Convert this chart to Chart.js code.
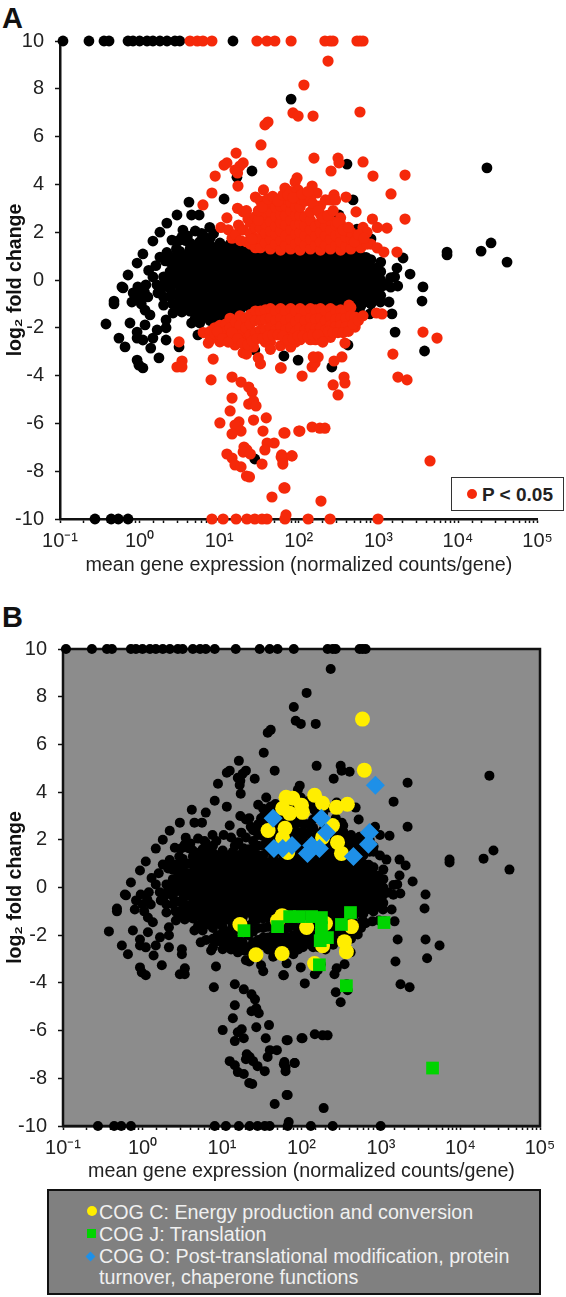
<!DOCTYPE html>
<html>
<head>
<meta charset="utf-8">
<script src="https://cdn.jsdelivr.net/npm/chart.js@4"></script>
<style>
  html, body { margin: 0; padding: 0; background: #fff; }
  body { width: 566px; height: 1297px; position: relative; overflow: hidden; font-family: "Liberation Sans", Arial, sans-serif; color: #222; filter: blur(0.4px); }
  canvas { position: absolute; left: 0; }
  .panel { position: absolute; left: 2px; font-size: 29px; font-weight: bold; line-height: 30px; color: #111; }
  #pBox { position: absolute; left: 451px; top: 477px; width: 111px; height: 32px; border: 1.5px solid #333; background: #fff; font-weight: bold; font-size: 19px; line-height: 33px; white-space: nowrap; }
  #pBox i { position: absolute; left: 15px; top: 11px; width: 10px; height: 10px; border-radius: 50%; background: #f5290a; }
  #pBox span { position: absolute; left: 30px; }
  #cogBox { position: absolute; left: 47px; top: 1189px; width: 490px; height: 102px; border: 2px solid #111; background: #808080; color: #f0f0f0; font-size: 19.7px; }
  #cogBox div { position: absolute; left: 50px; white-space: nowrap; line-height: 21px; }
  #cogBox i { position: absolute; left: 38px; }
</style>
</head>
<body>
<div class="panel" style="top:3px">A</div>
<div class="panel" style="top:602px">B</div>
<canvas id="chartA" width="566" height="577" style="top:0"></canvas>
<canvas id="chartB" width="566" height="593" style="top:590px"></canvas>
<div id="pBox"><i></i><span>P &lt; 0.05</span></div>
<div id="cogBox">
  <i style="top:15px;width:10px;height:10px;border-radius:50%;background:#ffee00"></i>
  <div style="top:11px">COG C: Energy production and conversion</div>
  <i style="top:38px;width:9px;height:9px;background:#00d400"></i>
  <div style="top:33px">COG J: Translation</div>
  <i style="top:62px;width:7px;height:7px;background:#1e90e8;transform:rotate(45deg)"></i>
  <div style="top:55px">COG O: Post-translational modification, protein</div>
  <div style="top:76px">turnover, chaperone functions</div>
</div>
<script>
// tick labels
const xTickLabels = { 0.1: "10⁻¹", 1: "10⁰", 10: "10¹", 100: "10²", 1000: "10³", 10000: "10⁴", 100000: "10⁵" };

// not significant genes [mean expression, log2 fold change]
const blackEdge = [
  [0.109,10],[0.231,10],[0.357,10],[0.413,10],[0.715,10],[0.826,10],[1,10],[1.24,10],[1.47,10],[1.8,10],[2.21,10],[2.78,10],[3.2,10],[14.9,10],
  [0.275,-10],[0.44,-10],[0.54,-10],[0.715,-10]
];
const blackScatter = [
  [80,7.57],[25.8,4.56],[11.5,3.39],[4.17,3.26],[16.7,4.3],[403,4.85],[480,3.35],[320,2.72],[538,2.13],[807,1.72],[2040,0.92],[1710,0.5],[1600,0.13],[2500,0.25],[1230,-0.21],[1750,-0.25],[3630,-0.29],
  [7280,1.17],[7280,1.05],[19500,1.21],[26000,1.55],[23100,4.69],[41300,0.75],[3530,-0.88],[587,-1.38],[780,-1.42],[1480,-1.42],[1060,-0.92],[1360,-0.92],[1620,-2.18],[3800,-2.97],[260,-3.64],[98,-3.35],[65,-3.18],[415,-2.72],[28,-7.49],[28,-2.93],[3.13,-2.8],
  [0.378,-1.84],[0.55,-2.43],[0.656,-2.8],[0.757,-1.8],[0.477,-0.88],[0.477,-1],[0.62,-0.33],[0.8,-0.92],[0.83,-0.54],[0.95,-0.29],[1.27,-0.71],[1.17,-1.26],[1.35,-1.46],[0.93,-2.18],[1.17,-1.88],[0.93,-2.43],[1.1,-2.51],[1.47,-2.43],[1.38,-2.85],[0.93,-3.35],[0.98,-3.56],[1.1,-3.68],[1.75,-3.26],[2.15,-2.51],[1.66,-2.09],[2.15,-1.67],[2.15,-2],[2,-1.05],[2,-0.71],[1.7,-0.54],[2.63,-1.38],[3.4,-1.34],[4.5,-1.8],[5.4,-2.3],
  [0.6,-0.29],[0.715,0.21],[0.93,0.71],[1.1,1.09],[1.47,1.63],[1.8,2],[2.2,2.38],[2.95,2.72],[1.47,0.13],[1.8,0.96],[2.55,1.67],[3.5,2.09],[4.5,2.72],[5.6,2.72],[2,0.13],[3.4,1.8],[6.25,1.88],[7.6,2.2],[4.6,1.38],
  [1.3,0.4],[1.6,0.6],[2.1,0.8],[2.2,1.15],[2.6,0.95],[2.9,1.3],[3.1,1.65],[1.65,-0.2],[1.9,-0.35],[2.1,-0.1],[2.4,-0.7],[2.6,-1],[3,-1.1],[1,-0.7],[1.15,-0.5],[1.2,-0.2],[1.05,-1],
  [6,1.95],[8.5,1.95],[4,1.85],[5,2.05],[3.8,1.65],[2.9,1]
];
const blackCore = [
  [2.41,-0.35],[2.41,0],[2.41,0.35],[2.41,0.75],
  [3.2,-0.9],[3.2,-0.5],[3.2,-0.2],[3.2,0.1],[3.2,0.4],[3.2,0.8],[3.2,1.2],
  [4.3,-1.3],[4.3,-1],[4.3,-0.65],[4.3,-0.35],[4.3,-0.05],[4.3,0.3],[4.3,0.6],[4.3,0.95],[4.3,1.3],[4.3,1.55],
  [5.7,-1.8],[5.7,-1.45],[5.7,-1.15],[5.7,-0.8],[5.7,-0.5],[5.7,-0.2],[5.7,0.1],[5.7,0.4],[5.7,0.75],[5.7,1.05],[5.7,1.35],[5.7,1.6],
  [7.7,-1.7],[7.7,-1.35],[7.7,-1.05],[7.7,-0.7],[7.7,-0.4],[7.7,-0.1],[7.7,0.2],[7.7,0.5],[7.7,0.85],[7.7,1.15],[7.7,1.45],[7.7,1.75],
  [10.2,-1.65],[10.2,-1.3],[10.2,-1],[10.2,-0.65],[10.2,-0.35],[10.2,-0.05],[10.2,0.25],[10.2,0.55],[10.2,0.9],[10.2,1.2],[10.2,1.55],
  [13.7,-1.5],[13.7,-1.2],[13.7,-0.9],[13.7,-0.6],[13.7,-0.3],[13.7,0],[13.7,0.3],[13.7,0.6],[13.7,0.9],[13.7,1.2],[13.7,1.5],
  [18.2,-1.25],[18.2,-0.95],[18.2,-0.65],[18.2,-0.35],[18.2,-0.05],[18.2,0.25],[18.2,0.55],[18.2,0.85],[18.2,1.15],[18.2,1.45],
  [24.6,-1.2],[24.6,-0.9],[24.6,-0.6],[24.6,-0.3],[24.6,0],[24.6,0.3],[24.6,0.6],[24.6,0.9],[24.6,1.2],
  [33,-1.25],[33,-0.95],[33,-0.65],[33,-0.35],[33,-0.05],[33,0.25],[33,0.55],[33,0.85],[33,1.15],
  [44,-1.2],[44,-0.9],[44,-0.6],[44,-0.3],[44,0],[44,0.3],[44,0.6],[44,0.9],[44,1.2],
  [59,-1.25],[59,-0.95],[59,-0.65],[59,-0.35],[59,-0.05],[59,0.25],[59,0.55],[59,0.85],[59,1.15],
  [79,-1.2],[79,-0.9],[79,-0.6],[79,-0.3],[79,0],[79,0.3],[79,0.6],[79,0.9],[79,1.2],
  [104,-1.25],[104,-0.95],[104,-0.65],[104,-0.35],[104,-0.05],[104,0.25],[104,0.55],[104,0.85],[104,1.15],
  [140,-1.2],[140,-0.9],[140,-0.6],[140,-0.3],[140,0],[140,0.3],[140,0.6],[140,0.9],[140,1.2],
  [187,-1.25],[187,-0.95],[187,-0.65],[187,-0.35],[187,-0.05],[187,0.25],[187,0.55],[187,0.85],[187,1.15],
  [250,-1.2],[250,-0.9],[250,-0.6],[250,-0.3],[250,0],[250,0.3],[250,0.6],[250,0.9],[250,1.2],
  [335,-1.25],[335,-0.95],[335,-0.65],[335,-0.35],[335,-0.05],[335,0.25],[335,0.55],[335,0.85],[335,1.15],
  [450,-1.2],[450,-0.9],[450,-0.6],[450,-0.3],[450,0],[450,0.3],[450,0.6],[450,0.9],[450,1.2],
  [600,-1.1],[600,-0.8],[600,-0.5],[600,-0.2],[600,0.1],[600,0.4],[600,0.7],[600,1],
  [805,-1],[805,-0.7],[805,-0.4],[805,-0.1],[805,0.2],[805,0.5],[805,0.85],
  [1070,-0.65],[1070,-0.3],[1070,0],[1070,0.35],[1070,0.75],
  [1430,-0.3],[1430,0.1]
];
const blackCoreMid = [
  [2.8,-0.6],[2.8,-0.15],[2.8,0.2],[2.8,0.6],
  [3.7,-1.05],[3.7,-0.75],[3.7,-0.35],[3.7,0],[3.7,0.25],[3.7,0.6],[3.7,1],
  [5,-1.6],[5,-1.2],[5,-0.85],[5,-0.5],[5,-0.2],[5,0.15],[5,0.45],[5,0.8],[5,1.15],[5,1.45],
  [6.6,-1.55],[6.6,-1.2],[6.6,-0.9],[6.6,-0.55],[6.6,-0.25],[6.6,0.05],[6.6,0.35],[6.6,0.65],[6.6,1],[6.6,1.3],[6.6,1.6],
  [8.9,-1.5],[8.9,-1.15],[8.9,-0.85],[8.9,-0.5],[8.9,-0.2],[8.9,0.1],[8.9,0.4],[8.9,0.7],[8.9,1.05],[8.9,1.35],
  [12,-1.35],[12,-1.05],[12,-0.75],[12,-0.45],[12,-0.15],[12,0.15],[12,0.45],[12,0.75],[12,1.05],[12,1.35],
  [15.8,-1.35],[15.8,-1.05],[15.8,-0.75],[15.8,-0.45],[15.8,-0.15],[15.8,0.15],[15.8,0.45],[15.8,0.75],[15.8,1.05],[15.8,1.35],
  [21,-1.05],[21,-0.75],[21,-0.45],[21,-0.15],[21,0.15],[21,0.45],[21,0.75],[21,1.05],[21,1.3],
  [28.5,-1.05],[28.5,-0.75],[28.5,-0.45],[28.5,-0.15],[28.5,0.15],[28.5,0.45],[28.5,0.75],[28.5,1.05],
  [38,-1.05],[38,-0.75],[38,-0.45],[38,-0.15],[38,0.15],[38,0.45],[38,0.75],[38,1.05],
  [51,-1.05],[51,-0.75],[51,-0.45],[51,-0.15],[51,0.15],[51,0.45],[51,0.75],[51,1.05],
  [68,-1.05],[68,-0.75],[68,-0.45],[68,-0.15],[68,0.15],[68,0.45],[68,0.75],[68,1.05],
  [91,-1.05],[91,-0.75],[91,-0.45],[91,-0.15],[91,0.15],[91,0.45],[91,0.75],[91,1.05],
  [120,-1.05],[120,-0.75],[120,-0.45],[120,-0.15],[120,0.15],[120,0.45],[120,0.75],[120,1.05],
  [162,-1.05],[162,-0.75],[162,-0.45],[162,-0.15],[162,0.15],[162,0.45],[162,0.75],[162,1.05],
  [216,-1.05],[216,-0.75],[216,-0.45],[216,-0.15],[216,0.15],[216,0.45],[216,0.75],[216,1.05],
  [290,-1.05],[290,-0.75],[290,-0.45],[290,-0.15],[290,0.15],[290,0.45],[290,0.75],[290,1.05],
  [390,-1.05],[390,-0.75],[390,-0.45],[390,-0.15],[390,0.15],[390,0.45],[390,0.75],[390,1.05],
  [520,-1.05],[520,-0.7],[520,-0.35],[520,-0.05],[520,0.25],[520,0.55],[520,0.85],[520,1.1],
  [700,-0.9],[700,-0.55],[700,-0.25],[700,0.05],[700,0.35],[700,0.65],[700,0.95],
  [930,-0.8],[930,-0.45],[930,-0.15],[930,0.15],[930,0.5]
];

// significant genes, the red ones in panel A
const redEdge = [
  [4.3,10],[5.3,10],[6.25,10],[8.1,10],[29.8,10],[39.8,10],[50,10],[80,10],[213,10],[247,10],[269,10],[538,10],[587,10],[641,10],
  [8.1,-10],[11.2,-10],[16.3,-10],[22.3,-10],[28,-10],[34.5,-10],[39.8,-10],[67,-10],[69,-9.83],[131,-10],[247,-10],[990,-10]
];
const redScatter = [
  [6.25,3.14],[8.1,3.64],[8.9,4.35],[11.5,4.81],[12.5,4.9],[16.3,5.31],[20,4.9],[18.2,4.77],[15.8,4.6],[17,4.48],[17.2,3.93],[33.5,5.65],[46,4.9],[37.6,6.49],[41,6.61],[84.5,6.99],[98,6.86],[151,6.86],[587,7.03],[116,8.16],[233,9.16],
  [155,5.1],[311,5.1],[320,4.9],[641,4.94],[254,4.56],[855,4.35],[2160,4.39],[1440,3.6],[2160,2.55],[524,2.85],[95,4.27],[90,4.1],[67,3.85],[98,3.77],[147,3.93],[169,3.64],[277,3.56],[392,3.47],[1280,2.17],[970,2.2],[841,2.55],[641,2.2],[427,1.92],[807,1.5],[970,1.34],[1170,1.17],[1710,1.17],
  [944,-1.38],[1110,-1.42],[3630,-2.18],[5450,-2.43],[1520,-3.1],[1760,-4.06],[2290,-4.18],[370,-4.06],[380,-4.31],[270,-4.39],[311,-4.81],[348,-3.22],[277,-3.39],[147,-3.64],[160,-3.47],[175,-3.22],[152,-3.22],[110,-4.02],[60,-3.68],[380,-2.64],[510,-1.97],[427,-1.05],[4450,-7.57],
  [67,-6.4],[103,-6.32],[147,-6.15],[184,-6.2],[213,-6.2],[82,-7.36],[63,-7.53],[61,-7.32],[67,-8.7],[190,-9.25],
  [3.13,-2.59],[3.41,-3.39],[2.95,-3.64],[3.4,-3.64],
  [7.9,-4.18],[8.4,-3.31],[7.3,-2.64],[14.5,-4.06],[18.8,-4.27],[23.5,-4.48],[26,-4.69],[14.5,-4.94],[13.7,-5.48],[23.5,-5.19],[27,-5.06],[29,-5.27],[39,-5.77],[27,-5.86],[10.2,-5.98],[17.7,-5.94],[15.8,-6.07],[18.8,-6.32],[14.5,-6.44],[35.5,-6.32],[65,-6.4],[100,-6.32],[49,-6.82],[40,-6.82],[37.5,-7.11],[20.5,-6.99],[22.3,-7.11],[20,-7.2],[24.6,-7.28],[12.5,-7.28],[14.5,-7.45],[15.8,-7.74],[18.8,-7.82],[22,-8.2],[24,-8.24],[34.5,-7.7],[60,-7.41],[63,-7.7],[82,-7.36],[65,-8.7],[46,-9.08],
  [59,-3.68],[33,-3.51],[31,-3.26],[27,-2.8],[20,-3.05],[22,-3.1],[15.8,-2.72],[10.2,-2.59]
];
const redUpper = [
  [10.5,2.2],[13,2.1],[12.5,2.6],[14.5,1.75],[16,1.9],[17.5,2.3],[17,3],[18.5,1.65],[20,2.1],[20,2.85],[22,2.9],[23,2.55],[22,1.6],
  [24.6,1.5],[24.6,1.95],[24.6,2.4],[28.5,1.35],[28.5,1.75],[28.5,2.2],[28.5,2.65],[28.5,3.47],
  [33,1.35],[33,1.75],[33,2.15],[33,2.55],[33,2.95],[33,3.3],[36,3.77],[38,1.55],[38,1.95],[38,2.35],[38,2.75],[38,3.15],
  [44,1.3],[44,1.7],[44,2.05],[44,2.45],[44,2.85],[44,3.2],[51,1.5],[51,1.9],[51,2.25],[51,2.65],[51,3.05],[51,3.4],
  [59,1.25],[59,1.65],[59,2.05],[59,2.4],[59,2.75],[59,3.1],[68,1.45],[68,1.85],[68,2.3],[68,2.7],[68,3.1],[68,3.4],
  [79,1.3],[79,1.7],[79,2.1],[79,2.5],[79,2.9],[79,3.25],[79,3.7],[91,1.5],[91,1.9],[91,2.3],[91,2.7],[91,3.05],
  [104,1.25],[104,1.65],[104,2],[104,2.35],[104,2.7],[104,3.05],[104,3.4],[120,1.45],[120,1.85],[120,2.25],[120,2.65],[120,3.3],
  [140,1.3],[140,1.7],[140,2.1],[140,2.5],[140,2.85],[140,3.4],[162,1.45],[162,1.85],[162,2.25],[162,3.05],
  [187,1.25],[187,1.6],[187,2],[187,2.4],[187,2.75],[187,3.1],[216,1.45],[216,1.85],[216,2.25],[216,3.35],
  [250,1.3],[250,1.7],[250,2.1],[250,2.5],[250,3.35],[290,1.45],[290,1.85],[290,2.3],[290,3.35],
  [335,1.25],[335,1.6],[335,2],[335,2.35],[335,2.6],[390,1.4],[390,1.8],[450,1.3],[450,1.7],[450,2],[600,1.35],[600,1.7],[720,1.5],[720,2],
  [26,1.7],[31,2.5],[31,2.9],[35,3.05],[41,3.4],[47,3.5],[55,3.3],[63,3.55],[73,3.55],[85,3.45],[110,3.6],[130,3.7],[150,3.2],[175,2.9],[200,2.6],[230,2.7],[270,2.9],[310,2.4],[360,2.1],[420,2.2],[500,1.6],[560,1.9],[660,1.75]
];
const redLower = [
  [6.3,-2.2],[7.7,-2.15],[7.7,-2.5],[8.8,-2],[8.8,-2.25],[10.2,-1.9],[10.2,-2.3],[12,-1.85],[12,-2.15],[13.7,-1.6],[13.7,-2],[13.7,-2.4],[16,-1.75],[16,-2.2],[16,-2.65],[18.2,-1.5],[18.2,-1.9],[18.2,-2.3],
  [21.5,-1.6],[21.5,-2],[21.5,-2.5],[24.6,-1.45],[24.6,-1.85],[24.6,-2.3],[28.5,-1.3],[28.5,-1.7],[28.5,-2.2],[33,-1.3],[33,-1.7],[33,-2.1],[38,-1.25],[38,-1.65],[38,-2.1],[38,-2.6],
  [44,-1.2],[44,-1.6],[44,-2],[44,-2.6],[44,-2.9],[51,-1.3],[51,-1.7],[51,-2.1],[59,-1.2],[59,-1.6],[59,-1.95],[59,-2.75],[68,-1.3],[68,-1.7],[68,-2.1],[68,-2.5],
  [79,-1.2],[79,-1.6],[79,-2],[79,-2.4],[79,-2.8],[91,-1.3],[91,-1.75],[91,-2.15],[91,-2.6],[104,-1.2],[104,-1.6],[104,-2],[104,-2.5],[120,-1.3],[120,-1.7],[120,-2.1],
  [140,-1.2],[140,-1.6],[140,-2],[140,-2.5],[162,-1.25],[162,-1.65],[162,-2.05],[162,-2.5],[187,-1.2],[187,-1.6],[187,-2],[187,-2.45],[216,-1.3],[216,-1.7],[216,-2.1],[216,-2.4],
  [250,-1.2],[250,-1.55],[250,-1.9],[250,-2.4],[290,-1.3],[290,-1.65],[290,-1.95],[335,-1.25],[335,-1.6],[335,-1.9],[390,-1.3],[390,-1.6],[390,-1.95],[450,-1.15],[450,-1.5],[510,-1.55],
  [9.5,-2.15],[11,-2.45],[13,-2.6],[14.5,-2.2],[17,-2.45],[19.5,-2.65],[23,-2.7],[26,-2.55],[30,-2.45],[35,-2.45],[41,-2.35],[47,-2.3],[55,-2.3],[63,-2.35],[73,-2.5],[85,-2.45],[98,-2.35],[112,-2.35],[130,-2.4],[150,-2.3],[175,-2.3],[200,-2.6],[235,-2.15],[270,-2.2],[310,-2.2],[360,-2.2],[420,-2.15],[480,-1.85],[560,-1.7],[640,-1.5]
];

// highlighted COG groups in panel B
const cogC = [
  [585,7.06],[617,4.92],[64,3.78],[78,3.74],[146,3.87],[184,3.53],[58,3.32],[71,3.11],[100,3.45],[103,3.15],[275,3.36],[378,3.49],[38,2.39],[62,2.48],[58,2.06],[245,2.6],[184,2.1],[284,1.89],[318,1.43],[67,1.47],
  [16.8,-1.55],[57,-1.18],[50,-1.39],[116,-1.68],[200,-1.51],[425,-1.64],[26.7,-2.82],[57,-2.77],[184,-2.44],[347,-2.27],[367,-2.69],[146,-3.19]
];
const cogJ = [
  [18.9,-1.81],[50,-1.64],[71,-1.22],[94,-1.22],[134,-1.22],[178,-1.26],[178,-1.68],[178,-2.1],[212,-2.1],[172,-2.23],[318,-1.55],[413,-1.05],[1090,-1.47],[168,-3.24],[367,-4.12],[4450,-7.57]
];
const cogO = [
  [850,4.29],[44,2.9],[178,2.9],[206,2.31],[715,2.31],[695,1.81],[450,1.3],[45,1.64],[58,1.64],[76,1.76],[134,1.76],[168,1.64],[119,1.43]
];

const blackPoints = blackEdge.concat(blackScatter, blackCore, blackCoreMid);
const redPoints = redEdge.concat(redScatter, redUpper, redLower);

function toXY(list) {
  return list.map((p) => ({ x: p[0], y: p[1] }));
}

function dots(list, color, radius, style) {
  return {
    data: toXY(list),
    backgroundColor: color,
    borderWidth: 0,
    pointRadius: radius,
    pointStyle: style || "circle",
    clip: false,
  };
}

// Gray plot background and black frame of panel B
const framePlugin = {
  id: "frame",
  beforeDatasetsDraw(chart, args, opts) {
    if (!opts.fill) return;
    const a = chart.chartArea;
    const c = chart.ctx;
    c.save();
    c.fillStyle = opts.fill;
    c.fillRect(a.left, a.top, a.width, a.height);
    c.strokeStyle = "#111";
    c.lineWidth = 2.5;
    c.strokeRect(a.left, a.top, a.width, a.height);
    c.restore();
  },
};

function makeChart(id, datasets, box, fill) {
  const font = "'Liberation Sans', Arial, sans-serif";
  return new Chart(document.getElementById(id), {
    type: "scatter",
    data: { datasets },
    plugins: [framePlugin],
    options: {
      responsive: false,
      animation: false,
      layout: {
        autoPadding: false,
        padding: { left: 0, right: box.right, top: box.top, bottom: 0 },
      },
      plugins: {
        legend: { display: false },
        tooltip: { enabled: false },
        frame: { fill },
      },
      scales: {
        x: {
          type: "logarithmic",
          min: 0.1,
          max: 100000,
          afterFit(scale) { scale.height = box.xHeight; },
          border: { color: "#111", width: 2.5 },
          grid: { drawOnChartArea: false, drawTicks: true, tickLength: 4, tickColor: "#111", tickWidth: 1.5 },
          ticks: {
            autoSkip: false,
            maxRotation: 0,
            padding: 6,
            color: "#222",
            font: { family: font, size: 20 },
            callback: (v) => xTickLabels[v] || "",
          },
          title: {
            display: true,
            text: "mean gene expression (normalized counts/gene)",
            color: "#222",
            font: { family: font, size: 19.7 },
            padding: { top: 3, bottom: 0 },
          },
        },
        y: {
          min: -10,
          max: 10,
          afterFit(scale) { scale.width = box.left; },
          border: { color: "#111", width: 2.5 },
          grid: { drawOnChartArea: false, drawTicks: true, tickLength: 5, tickColor: "#111", tickWidth: 1.5 },
          ticks: {
            stepSize: 2,
            padding: 11,
            color: "#222",
            font: { family: font, size: 20 },
          },
          title: {
            display: true,
            text: "log₂ fold change",
            color: "#111",
            font: { family: font, size: 19.5, weight: "bold" },
            padding: { top: 4, bottom: 0 },
          },
        },
      },
    },
  });
}

// Chart.js paints the first dataset on top, so the top layer goes first
makeChart(
  "chartA",
  [dots(redPoints, "#f5290a", 5.6), dots(blackPoints, "#000", 5.4)],
  { left: 60, right: 28.4, top: 41, xHeight: 58 }
);

makeChart(
  "chartB",
  [
    dots(cogO, "#1e90e8", 9.5, "rectRot"),
    dots(cogJ, "#00d400", 9, "rect"),
    dots(cogC, "#ffee00", 7.5),
    dots(blackPoints.concat(redPoints), "#000", 5),
  ],
  { left: 63, right: 26, top: 59, xHeight: 57 },
  "#8c8c8c"
);
</script>
</body>
</html>
